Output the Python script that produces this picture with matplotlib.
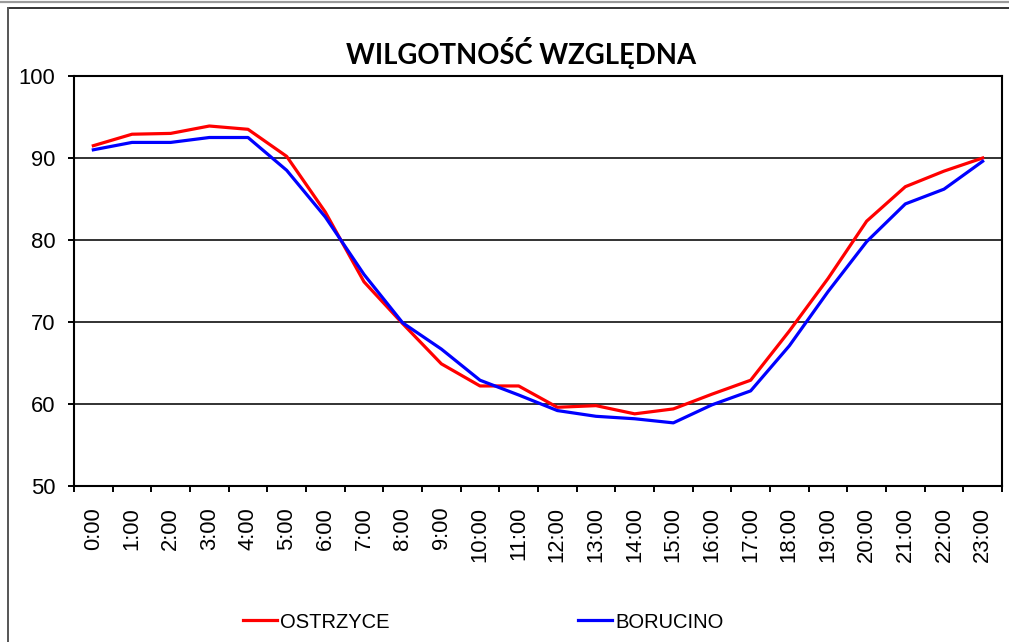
import matplotlib
matplotlib.use("Agg")
import matplotlib.pyplot as plt
from matplotlib.lines import Line2D

hours = [f"{h}:00" for h in range(24)]
ostrzyce = [91.5, 92.9, 93.0, 93.9, 93.5, 90.2, 83.4, 74.9, 69.8, 64.9, 62.2, 62.2,
            59.6, 59.8, 58.8, 59.4, 61.2, 62.9, 68.9, 75.3, 82.3, 86.5, 88.4, 90.0]
borucino = [91.0, 91.9, 91.9, 92.5, 92.5, 88.5, 82.8, 75.8, 69.9, 66.7, 62.9, 61.1,
            59.2, 58.5, 58.2, 57.7, 59.9, 61.6, 67.1, 73.7, 79.8, 84.4, 86.2, 89.6]
series_names = ["OSTRZYCE", "BORUCINO"]
yticks = [50, 60, 70, 80, 90, 100]

W, H = 1009, 642
fig = plt.figure(figsize=(W / 100, H / 100), dpi=100)
fig.patch.set_facecolor("white")

# outer frame lines
fig.add_artist(Line2D([0, 1], [1 - 2 / H, 1 - 2 / H], color="#9a9a9a", lw=1.6, transform=fig.transFigure))
fig.add_artist(Line2D([8 / W, 1], [1 - 8 / H, 1 - 8 / H], color="#333333", lw=1.4, transform=fig.transFigure))
fig.add_artist(Line2D([8 / W, 8 / W], [0, 1 - 8 / H], color="#555555", lw=1.4, transform=fig.transFigure))

ax = fig.add_axes([74 / W, 1 - 486 / H, (1002 - 74) / W, (486 - 76) / H])
x = list(range(len(hours)))
l1, = ax.plot(x, ostrzyce, color="#ff0000", lw=2.3, label=series_names[0], zorder=3)
l2, = ax.plot(x, borucino, color="#0000ff", lw=2.3, label=series_names[1], zorder=3)

ax.set_xlim(-0.5, len(hours) - 0.5)
ax.set_ylim(50, 100)
ax.set_yticks(yticks)
ax.set_yticklabels([str(v) for v in yticks], fontsize=15.8, family="Liberation Sans")
ax.tick_params(axis="y", length=4.5, width=1.4, pad=9, color="black")
ax.set_xticks(x)
ax.set_xticklabels(hours, rotation=90, fontsize=15.8, family="Liberation Sans")
ax.tick_params(axis="x", which="major", length=0, pad=15)
ax.set_xticks([i - 0.5 for i in range(len(hours) + 1)], minor=True)
ax.tick_params(axis="x", which="minor", length=4.5, width=1.4, color="black")

for v in yticks[1:-1]:
    ax.axhline(v, color="#222222", lw=1.3, zorder=1)
for s in ax.spines.values():
    s.set_linewidth(1.5)
    s.set_color("black")

fig.text(521 / W, 1 - 53 / H, "WILGOTNOŚĆ WZGLĘDNA", ha="center", va="center",
         fontsize=19.8, fontweight="bold", family="Lato")

fig.legend(handles=[l1, l2], loc="center", bbox_to_anchor=(483 / W, 1 - 622 / H), ncol=2,
           frameon=False, prop={"family": "Liberation Sans", "size": 14.5},
           handlelength=1.7, handletextpad=0.15, columnspacing=9.35, borderpad=0)

fig.savefig("out.png", dpi=100)
